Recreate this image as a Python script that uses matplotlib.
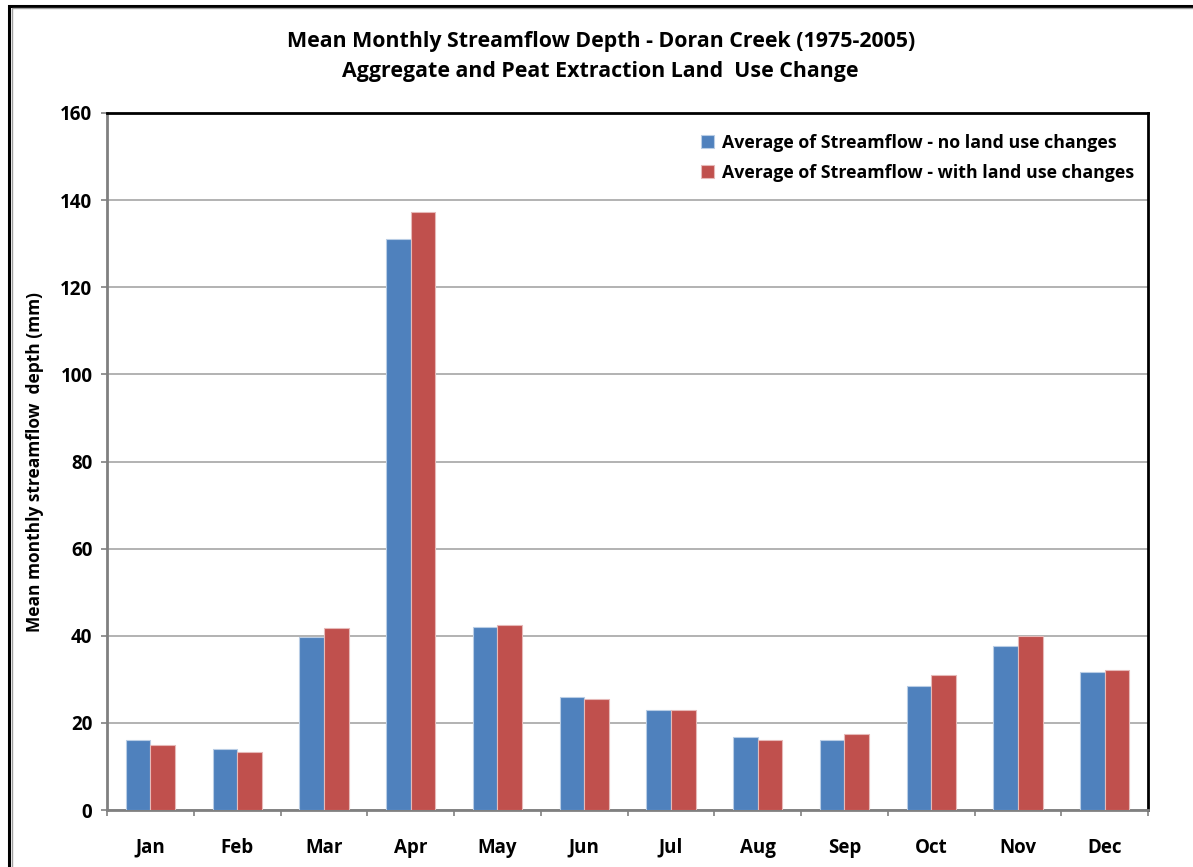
import matplotlib.pyplot as plt
from matplotlib.patches import Rectangle
import numpy as np

months = ['Jan', 'Feb', 'Mar', 'Apr', 'May', 'Jun', 'Jul', 'Aug', 'Sep', 'Oct', 'Nov', 'Dec']
no_change = [16.1, 14.0, 39.7, 131.0, 42.0, 25.9, 23.0, 16.7, 16.1, 28.5, 37.6, 31.6]
with_change = [14.9, 13.3, 41.8, 137.2, 42.5, 25.6, 23.0, 16.1, 17.4, 31.0, 40.0, 32.2]
yticks = [0, 20, 40, 60, 80, 100, 120, 140, 160]

plt.rcParams['font.family'] = ['Open Sans', 'DejaVu Sans']
plt.rcParams['font.weight'] = 'bold'

fig = plt.figure(figsize=(11.93, 8.67), dpi=100)
ax = fig.add_axes([0.0897, 0.0657, 0.8726, 0.804])

# outer chart border
fig.patches.append(Rectangle((9 / 1193, -0.1), 1.2, 1 - 6 / 867 + 0.1,
                             transform=fig.transFigure, fill=False,
                             edgecolor='black', linewidth=2.2))
fig.patches.append(Rectangle((11.5 / 1193, -0.1), 1.2, 1 - 8.5 / 867 + 0.1,
                             transform=fig.transFigure, fill=False,
                             edgecolor='#a0a0a0', linewidth=1.0))

x = np.arange(len(months))
w = 0.284
ax.bar(x - w / 2, no_change, w, color='#4F81BD', edgecolor='#b9cde5',
       linewidth=0.8, zorder=3, label='Average of Streamflow - no land use changes')
ax.bar(x + w / 2, with_change, w, color='#C0504D', edgecolor='#e6b9b8',
       linewidth=0.8, zorder=3, label='Average of Streamflow - with land use changes')

ax.set_xlim(-0.5, len(months) - 0.5)
ax.set_ylim(0, 160)
ax.set_yticks(yticks)
ax.set_yticklabels([str(v) for v in yticks], fontsize=13.5, fontweight='bold')
ax.set_xticks(x)
ax.set_xticklabels(months, fontsize=13.5, fontweight='bold')
ax.set_xticks(np.arange(-0.5, len(months)), minor=True)
ax.tick_params(axis='x', which='major', length=0, pad=20)
ax.tick_params(axis='x', which='minor', length=4.5, width=1.2, color='#808080')
ax.tick_params(axis='y', length=4.5, width=1.2, color='#808080', pad=6)

ax.grid(axis='y', color='#a6a6a6', linewidth=1.2, zorder=0)
ax.set_axisbelow(True)

for side in ['top', 'right']:
    ax.spines[side].set_color('black')
    ax.spines[side].set_linewidth(2)
for side in ['left', 'bottom']:
    ax.spines[side].set_color('#808080')
    ax.spines[side].set_linewidth(2)

ax.set_ylabel('Mean monthly streamflow  depth (mm)', fontsize=12.5,
              fontweight='bold', labelpad=12)

fig.text(0.5035, 0.952, 'Mean Monthly Streamflow Depth - Doran Creek (1975-2005)',
         ha='center', va='center', fontsize=15.4, fontweight='bold')
fig.text(0.5035, 0.918, 'Aggregate and Peat Extraction Land  Use Change',
         ha='center', va='center', fontsize=15.4, fontweight='bold')

ax.legend(loc='upper right', bbox_to_anchor=(1.002, 0.993), frameon=False,
          prop={'size': 12.8, 'weight': 'bold'}, handlelength=0.75,
          handleheight=0.75, handletextpad=0.45, labelspacing=0.68)

fig.savefig('out.png', dpi=100)
